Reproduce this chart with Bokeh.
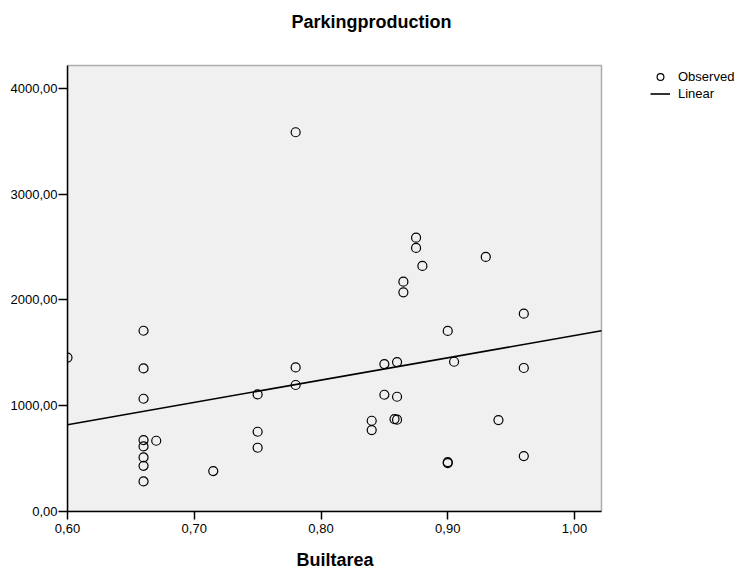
import numpy as np
from bokeh.plotting import figure
from bokeh.models import (Range1d, FixedTicker, CustomJSTickFormatter, Legend, LegendItem,
                          Label, BoxAnnotation)
from bokeh.embed import file_html
from bokeh.resources import INLINE

# ---- data ----
builtarea = [0.60,
             0.66, 0.66, 0.66, 0.66, 0.66, 0.66, 0.66, 0.66,
             0.67, 0.715,
             0.75, 0.75, 0.75,
             0.78, 0.78, 0.78,
             0.84, 0.84,
             0.85, 0.85,
             0.858,
             0.86, 0.86, 0.86,
             0.865, 0.865,
             0.875, 0.875,
             0.88,
             0.90, 0.90, 0.90,
             0.905, 0.93, 0.94,
             0.96, 0.96, 0.96]
parking = [1455,
           1709, 1353, 1066, 675, 615, 511, 432, 284,
           669, 382,
           1107, 754, 603,
           3586, 1362, 1196,
           858, 770,
           1394, 1104,
           874,
           1413, 1085, 868,
           2173, 2072,
           2589, 2492,
           2322,
           1707, 467, 458,
           1416, 2407, 864,
           1870, 1357, 524]
x_ticks = [0.60, 0.70, 0.80, 0.90, 1.00]
y_ticks = [0, 1000, 2000, 3000, 4000]
title_text = "Parkingproduction"
x_label = "Builtarea"
legend_labels = ["Observed", "Linear"]

FONT = "Liberation Sans"
# plot-area (grey box) extent in data units
x0, x1 = 0.60, 1.0213
y0, y1 = 0, 4217
# layout in pixels: grey box is BOX_W x BOX_H; the drawing frame also covers
# the space to the right (legend) and above (title)
LEFT, BOTTOM = 67, 59
BOX_W, BOX_H = 534, 446
FW, FH = 742 - LEFT, 570 - BOTTOM
xr_end = x0 + (x1 - x0) * FW / BOX_W
yr_end = y0 + (y1 - y0) * FH / BOX_H

p = figure(frame_width=FW, frame_height=FH, output_backend="svg", toolbar_location=None,
           title=None, x_range=Range1d(x0, xr_end), y_range=Range1d(y0, yr_end),
           min_border_left=LEFT, min_border_right=0, min_border_top=0,
           min_border_bottom=BOTTOM)

p.background_fill_color = "white"
p.border_fill_color = "white"
p.outline_line_color = None
p.xgrid.visible = False
p.ygrid.visible = False

box = BoxAnnotation(left=x0, right=x1, bottom=y0, top=y1, fill_color="#f0f0f0",
                    fill_alpha=1, line_color="black", line_width=1.5, level="underlay")
p.add_layout(box)

fmt = CustomJSTickFormatter(code="return tick.toFixed(2).replace('.', ',');")
for ax, ticks, tout, bnds in ((p.xaxis[0], x_ticks, 8, (x0, x1)),
                              (p.yaxis[0], y_ticks, 9, (y0, y1))):
    ax.ticker = FixedTicker(ticks=ticks)
    ax.formatter = fmt
    ax.bounds = bnds
    ax.minor_tick_line_color = None
    ax.major_tick_in = 0
    ax.major_tick_out = tout
    ax.major_tick_line_width = 1.5
    ax.major_tick_line_color = "black"
    ax.axis_line_color = "black"
    ax.axis_line_width = 1.5
    ax.major_label_text_font = FONT
    ax.major_label_text_font_size = "13px"
    ax.major_label_text_color = "black"
p.yaxis.major_label_standoff = 1
p.xaxis.major_label_standoff = 4
# the axis label is centred on the whole frame (which also spans the legend
# area); trailing no-break spaces move the visible word under the grey box
NBSP_PAD = 28
p.xaxis.axis_label = x_label + "\u00a0" * NBSP_PAD
p.xaxis.axis_label_text_font = FONT
p.xaxis.axis_label_text_font_size = "18px"
p.xaxis.axis_label_text_font_style = "bold"
p.xaxis.axis_label_text_color = "black"
p.xaxis.axis_label_standoff = 14

# title centred on the page, near the top
title = Label(x=371 - LEFT, y=FH - 21, x_units="screen", y_units="screen", text=title_text,
              text_font=FONT, text_font_size="18px", text_font_style="bold",
              text_align="center", text_baseline="alphabetic", text_color="black")
p.add_layout(title)

# linear fit
slope, intercept = np.polyfit(builtarea, parking, 1)
fx = [x0, x1]
fy = [intercept + slope * v for v in fx]

pts = p.scatter(builtarea, parking, marker="circle", size=9, fill_color=None,
                line_color="black", line_width=1.2)
ln = p.line(fx, fy, line_color="black", line_width=1.6)

legend = Legend(items=[LegendItem(label=legend_labels[0], renderers=[pts]),
                       LegendItem(label=legend_labels[1], renderers=[ln])],
                location=(650 - LEFT, FH - 67.5 - 34))
legend.label_text_font = FONT
legend.label_text_font_size = "13px"
legend.label_text_color = "black"
legend.label_standoff = 8
legend.glyph_width = 20
legend.glyph_height = 17
legend.label_height = 17
legend.spacing = 0
legend.padding = 0
legend.margin = 0
legend.border_line_color = None
legend.background_fill_alpha = 0
p.add_layout(legend)

open("out.html", "w").write(file_html(p, INLINE))
